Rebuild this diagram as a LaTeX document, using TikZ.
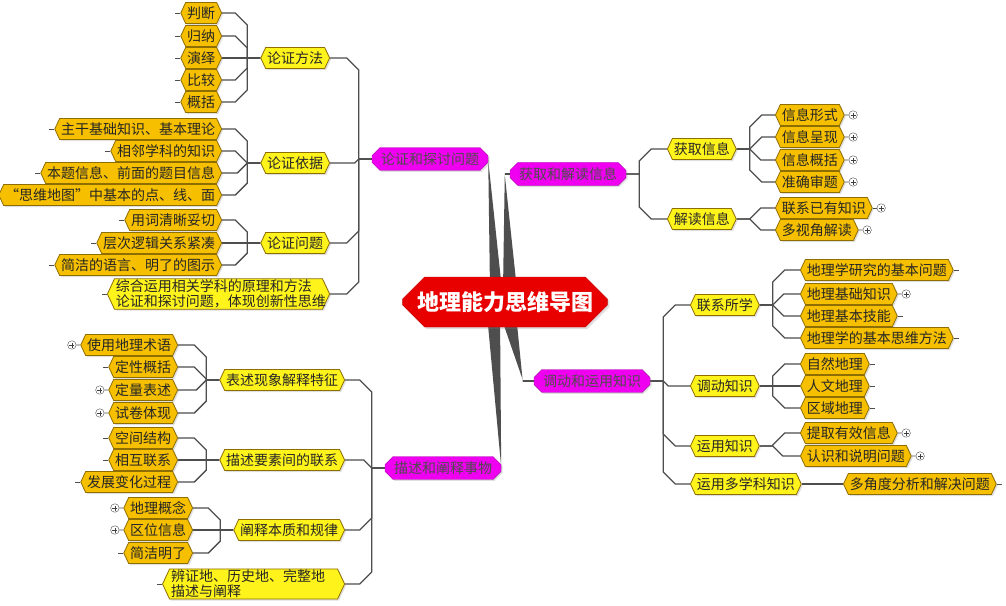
\documentclass[tikz,border=0pt]{standalone}
\usepackage{fontspec}
\setmainfont{Noto Sans CJK SC}
\usetikzlibrary{calc,positioning,shapes.symbols,shapes.misc,shadows,backgrounds}

\definecolor{rootred}{HTML}{E80000}
\definecolor{mainpink}{HTML}{F000F0}
\definecolor{subyellow}{HTML}{FFF31C}
\definecolor{leafgold}{HTML}{F6BF00}
\definecolor{rimgold}{HTML}{8F6E00}
\definecolor{linegray}{HTML}{4E4E4E}

\tikzset{
  box/.style={draw=rimgold, line width=0.8pt, text=black!85,
    font=\fontsize{14}{15}\selectfont,
    signal, signal to=west and east, signal pointer angle=130,
    inner xsep=1.5pt, inner ysep=1pt, minimum height=21pt,
    drop shadow={shadow xshift=1.5pt, shadow yshift=-1.5pt, opacity=0.25}},
  sub/.style={box, fill=subyellow},
  leaf/.style={box, fill=leafgold},
  main/.style={chamfered rectangle, chamfered rectangle xsep=4pt,
    chamfered rectangle ysep=4pt, draw=mainpink!70!black, fill=mainpink,
    text=black!70, font=\fontsize{14}{15}\selectfont, inner xsep=2pt,
    inner ysep=1pt, minimum height=22pt, minimum width=116pt,
    drop shadow={shadow xshift=1.5pt, shadow yshift=-1.5pt, opacity=0.25}},
  root/.style={chamfered rectangle, chamfered rectangle xsep=11pt,
    chamfered rectangle ysep=11pt, draw=rootred!85!black, fill=rootred,
    text=white, font=\fontsize{22}{24}\selectfont\bfseries,
    minimum width=183pt, minimum height=50pt,
    drop shadow={shadow xshift=2pt, shadow yshift=-2pt, opacity=0.25}},
  link/.style={draw=linegray, line width=1.3pt},
  elbow/.style={link, to path={
    let \p1=(\tikztostart), \p2=(\tikztotarget),
        \n1={sign(\x2-\x1)}, \n2={sign(\y2-\y1)}, \n3={min(12,abs(\y2-\y1))}
    in -- (\x1+\n1*13pt,\y1) -- (\x1+\n1*13pt,\y2-\n2*\n3*1pt)
       -- (\x1+\n1*13pt+\n1*\n3*1pt,\y2) -- (\x2,\y2)}},
  wedge/.style={fill=linegray},
  plusbox/.style={circle, draw=black!70, fill=white, inner sep=0pt,
    minimum size=8.5pt, path picture={
      \draw[black!75, line width=0.7pt]
        ([xshift=-2.5pt]path picture bounding box.center) -- ([xshift=2.5pt]path picture bounding box.center)
        ([yshift=-2.5pt]path picture bounding box.center) -- ([yshift=2.5pt]path picture bounding box.center);}},
  lstub/.style={append after command={(\tikzlastnode.west) edge[link, line width=0.8pt] ([xshift=-5pt]\tikzlastnode.west)}},
  rstub/.style={append after command={(\tikzlastnode.east) edge[link, line width=0.8pt] ([xshift=5pt]\tikzlastnode.east)}},
}

\begin{document}
\begin{tikzpicture}[x=1pt, y=-1pt]
\useasboundingbox (0,0) rectangle (1006,605);

% centre and main branches
\node[root] (map) at (505,302) {地理能力思维导图};
\node[main] (lztl) at (430,159) {论证和探讨问题};
\node[main] (hqjd) at (568,174) {获取和解读信息};
\node[main] (ddyy) at (592,381) {调动和运用知识};
\node[main] (msch) at (443,468) {描述和阐释事物};

% 论证和探讨问题
\node[sub, anchor=east] (lzff) at (330,58) {论证方法};
\node[sub, anchor=east] (lzyj) at (330,163) {论证依据};
\node[sub, anchor=east] (lzwt) at (330,243) {论证问题};
\node[sub, lstub, anchor=east, align=left, text width=205pt] (zhyy) at (330,294)
  {综合运用相关学科的原理和方法\\论证和探讨问题，体现创新性思维};

\node[leaf, lstub, anchor=east] (pd) at (222,13) {判断};
\node[leaf, lstub, anchor=east] (gn) at (222,36) {归纳};
\node[leaf, lstub, anchor=east] (yy) at (222,58) {演绎};
\node[leaf, lstub, anchor=east] (bj) at (222,80) {比较};
\node[leaf, lstub, anchor=east] (gk) at (222,102) {概括};
\node[leaf, lstub, anchor=east] (zg) at (222,129) {主干基础知识、基本理论};
\node[leaf, lstub, anchor=east] (xl) at (222,151) {相邻学科的知识};
\node[leaf, lstub, anchor=east] (bt) at (222,173) {本题信息、前面的题目信息};
\node[leaf, lstub, anchor=east] (sw) at (222,195) {“思维地图”中基本的点、线、面};
\node[leaf, lstub, anchor=east] (yc) at (222,220) {用词清晰妥切};
\node[leaf, lstub, anchor=east] (cc) at (222,243) {层次逻辑关系紧凑};
\node[leaf, lstub, anchor=east] (jj) at (222,265) {简洁的语言、明了的图示};

% 描述和阐释事物
\node[sub, anchor=east] (bsxx) at (345,380) {表述现象解释特征};
\node[sub, anchor=east] (msys) at (345,460) {描述要素间的联系};
\node[sub, anchor=east] (csbz) at (345,530) {阐释本质和规律};
\node[sub, lstub, anchor=east, align=left, text width=165pt] (bzd) at (345,584)
  {辨证地、历史地、完整地\\描述与阐释};

\node[leaf, anchor=east] (sy) at (178,345) {使用地理术语};
\node[leaf, lstub, anchor=east] (dx) at (178,367) {定性概括};
\node[leaf, anchor=east] (dl) at (178,390) {定量表述};
\node[leaf, anchor=east] (sj) at (178,413) {试卷体现};
\node[leaf, lstub, anchor=east] (kj) at (178,438) {空间结构};
\node[leaf, lstub, anchor=east] (xh) at (178,460) {相互联系};
\node[leaf, lstub, anchor=east] (fz) at (178,482) {发展变化过程};
\node[leaf, anchor=east] (gl) at (193,508) {地理概念};
\node[leaf, anchor=east] (qw) at (193,530) {区位信息};
\node[leaf, lstub, anchor=east] (jm) at (193,553) {简洁明了};

% 获取和解读信息
\node[sub, anchor=west] (hqxx) at (667,149) {获取信息};
\node[sub, anchor=west] (jdxx) at (667,219) {解读信息};
\node[leaf, anchor=west] (xxxs) at (775,115) {信息形式};
\node[leaf, anchor=west] (xxcx) at (775,137) {信息呈现};
\node[leaf, anchor=west] (xxgk) at (775,160) {信息概括};
\node[leaf, anchor=west] (zqst) at (775,182) {准确审题};
\node[leaf, anchor=west] (lxyy) at (775,208) {联系已有知识};
\node[leaf, anchor=west] (dsj) at (775,230) {多视角解读};

% 调动和运用知识
\node[sub, anchor=west] (lxsx) at (690,305) {联系所学};
\node[sub, anchor=west] (ddzs) at (690,386) {调动知识};
\node[sub, anchor=west] (yyzs) at (690,446) {运用知识};
\node[sub, anchor=west] (ydxk) at (690,484) {运用多学科知识};
\node[leaf, rstub, anchor=west] (wtjb) at (800,270) {地理学研究的基本问题};
\node[leaf, anchor=west] (jczs) at (800,294) {地理基础知识};
\node[leaf, rstub, anchor=west] (jbjn) at (800,316) {地理基本技能};
\node[leaf, rstub, anchor=west] (swff) at (800,338) {地理学的基本思维方法};
\node[leaf, rstub, anchor=west] (zrdl) at (800,364) {自然地理};
\node[leaf, rstub, anchor=west] (rwdl) at (800,386) {人文地理};
\node[leaf, rstub, anchor=west] (qydl) at (800,408) {区域地理};
\node[leaf, anchor=west] (tqxx) at (800,433) {提取有效信息};
\node[leaf, anchor=west] (rsmw) at (800,456) {认识和说明问题};
\node[leaf, rstub, anchor=west] (djfx) at (843,484) {多角度分析和解决问题};

% collapsed markers
\foreach \k in {sy,dl,sj,gl,qw}
  \node[plusbox, left=4pt of \k] (\k-p) {};
\foreach \k in {xxxs,xxcx,xxgk,zqst,lxyy,dsj,jczs,tqxx,rsmw}
  \node[plusbox, right=4pt of \k] (\k-p) {};

\coordinate (hqin) at ([xshift=-5pt]hqjd.west);
\coordinate (ddin) at ([xshift=-11pt]ddyy.west);

\begin{scope}[on background layer]
  \fill[white] (0,0) rectangle (1006,605);
  % wedges from the centre
  \fill[wedge] ([xshift=-15pt,yshift=12pt]map.center) -- ([xshift=-3pt,yshift=12pt]map.center)
    -- ([yshift=-1pt]lztl.east) -- ([yshift=1pt]lztl.east) -- cycle;
  \fill[wedge] ([xshift=-2pt,yshift=12pt]map.center) -- ([xshift=12pt,yshift=12pt]map.center)
    -- ([yshift=-1pt]hqin) -- ([yshift=1pt]hqin) -- cycle;
  \fill[wedge] ([xshift=-5pt,yshift=-12pt]map.center) -- ([xshift=11pt,yshift=-12pt]map.center)
    -- ([yshift=-1pt]ddin) -- ([yshift=1pt]ddin) -- cycle;
  \fill[wedge] ([xshift=-18pt,yshift=-12pt]map.center) -- ([xshift=-5pt,yshift=-12pt]map.center)
    -- ([yshift=-1pt]msch.east) -- ([yshift=1pt]msch.east) -- cycle;
  \draw[link] (hqin) -- (hqjd.west);
  \draw[link] (ddin) -- (ddyy.west);

  \draw[elbow] (lztl.west) to (lzff.east);
  \draw[elbow] (lztl.west) to (lzyj.east);
  \draw[elbow] (lztl.west) to (lzwt.east);
  \draw[elbow] (lztl.west) to (zhyy.east);
  \foreach \k in {pd,gn,yy,bj,gk} \draw[elbow] (lzff.west) to (\k.east);
  \foreach \k in {zg,xl,bt,sw} \draw[elbow] (lzyj.west) to (\k.east);
  \foreach \k in {yc,cc,jj} \draw[elbow] (lzwt.west) to (\k.east);

  \draw[elbow] (msch.west) to (bsxx.east);
  \draw[elbow] (msch.west) to (msys.east);
  \draw[elbow] (msch.west) to (csbz.east);
  \draw[elbow] (msch.west) to (bzd.east);
  \foreach \k in {sy,dx,dl,sj} \draw[elbow] (bsxx.west) to (\k.east);
  \foreach \k in {kj,xh,fz} \draw[elbow] (msys.west) to (\k.east);
  \foreach \k in {gl,qw,jm} \draw[elbow] (csbz.west) to (\k.east);

  \draw[elbow] (hqjd.east) to (hqxx.west);
  \draw[elbow] (hqjd.east) to (jdxx.west);
  \foreach \k in {xxxs,xxcx,xxgk,zqst} \draw[elbow] (hqxx.east) to (\k.west);
  \foreach \k in {lxyy,dsj} \draw[elbow] (jdxx.east) to (\k.west);

  \draw[elbow] (ddyy.east) to (lxsx.west);
  \draw[elbow] (ddyy.east) to (ddzs.west);
  \draw[elbow] (ddyy.east) to (yyzs.west);
  \draw[elbow] (ddyy.east) to (ydxk.west);
  \foreach \k in {wtjb,jczs,jbjn,swff} \draw[elbow] (lxsx.east) to (\k.west);
  \foreach \k in {zrdl,rwdl,qydl} \draw[elbow] (ddzs.east) to (\k.west);
  \foreach \k in {tqxx,rsmw} \draw[elbow] (yyzs.east) to (\k.west);
  \draw[elbow] (ydxk.east) to (djfx.west);

  \foreach \k in {sy,dl,sj,gl,qw,xxxs,xxcx,xxgk,zqst,lxyy,dsj,jczs,tqxx,rsmw}
    \draw[link, line width=0.8pt] (\k) -- (\k-p);
\end{scope}
\end{tikzpicture}
\end{document}
